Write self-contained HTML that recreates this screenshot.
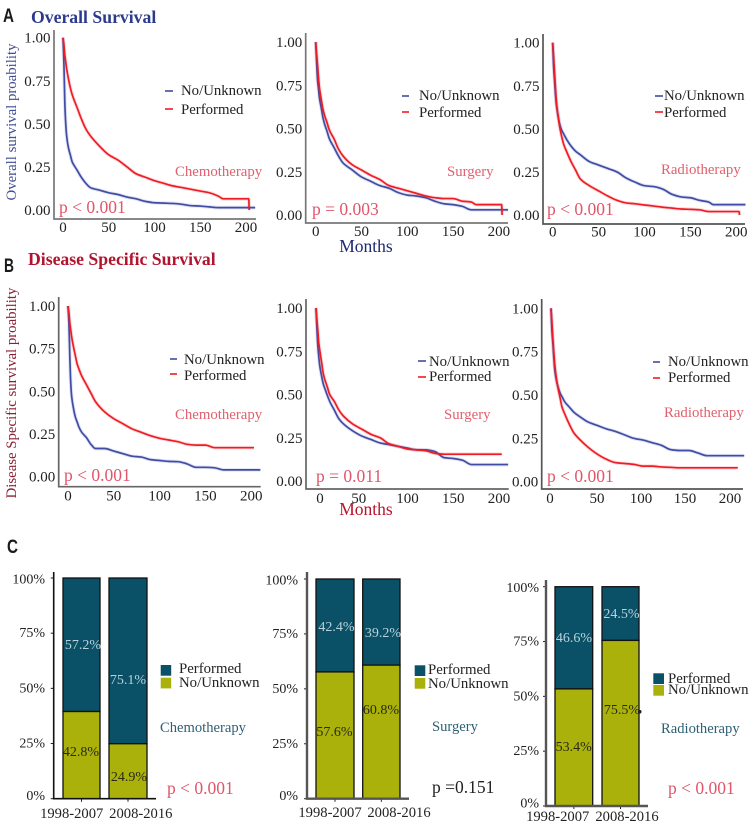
<!DOCTYPE html>
<html lang="en">
<head>
<meta charset="utf-8">
<title>Overall and Disease Specific Survival</title>
<style>
html,body{margin:0;padding:0;background:#fff;width:753px;height:826px;overflow:hidden}
svg{display:block}
text{font-family:"Liberation Serif",serif;fill:#222}
.leg{font-size:14.8px}
.tr{font-size:14.8px;fill:#e0606e}
.trc{font-size:14.6px;fill:#2e6074}
.p{font-size:17.5px;fill:#e0566a}
.letter{font-family:"Liberation Sans",sans-serif;font-weight:bold;font-size:19px;fill:#1a1a1a}
.title{font-weight:bold;font-size:17.7px}
</style>
</head>
<body>
<svg id="figure" width="753" height="826" viewBox="0 0 753 826" xmlns="http://www.w3.org/2000/svg">
<rect width="753" height="826" fill="#fff"/>
<text class="letter" x="3" y="22" textLength="11" lengthAdjust="spacingAndGlyphs">A</text>
<text class="title" x="31" y="23" style="fill:#2c3a8c">Overall Survival</text>
<text class="letter" x="4" y="272" textLength="10" lengthAdjust="spacingAndGlyphs">B</text>
<text class="title" x="28" y="265" style="fill:#b0142e">Disease Specific Survival</text>
<text class="letter" x="7" y="553" textLength="11" lengthAdjust="spacingAndGlyphs">C</text>
<text transform="translate(16,122) rotate(-90)" text-anchor="middle" style="font-size:14.8px;fill:#3f4d92">Overall survival proability</text>
<text transform="translate(16,393) rotate(-90)" text-anchor="middle" style="font-size:14.8px;fill:#8a1f33">Disease Specific survival proability</text>
<text x="366" y="252" text-anchor="middle" style="font-size:17.5px;fill:#1e2a6e">Months</text>
<text x="366" y="515" text-anchor="middle" style="font-size:17.5px;fill:#b8142e">Months</text>

<g>
<line x1="165" x2="173" y1="91" y2="91" stroke="#3f4d9e" stroke-width="1.6"/>
<text class="leg" x="181" y="95">No/Unknown</text>
<line x1="165" x2="173" y1="109" y2="109" stroke="#f01c24" stroke-width="1.6"/>
<text class="leg" x="181" y="114">Performed</text>
</g>
<g>
<line x1="402" x2="409" y1="96" y2="96" stroke="#3f4d9e" stroke-width="1.6"/>
<text class="leg" x="419" y="100">No/Unknown</text>
<line x1="402" x2="409" y1="112" y2="112" stroke="#f01c24" stroke-width="1.6"/>
<text class="leg" x="419" y="117">Performed</text>
</g>
<g>
<line x1="655" x2="663" y1="96" y2="96" stroke="#3f4d9e" stroke-width="1.6"/>
<text class="leg" x="664" y="100">No/Unknown</text>
<line x1="655" x2="663" y1="112" y2="112" stroke="#f01c24" stroke-width="1.6"/>
<text class="leg" x="664" y="117">Performed</text>
</g>
<g>
<line x1="170" x2="177" y1="359" y2="359" stroke="#3f4d9e" stroke-width="1.6"/>
<text class="leg" x="184" y="364">No/Unknown</text>
<line x1="170" x2="177" y1="374" y2="374" stroke="#f01c24" stroke-width="1.6"/>
<text class="leg" x="184" y="380">Performed</text>
</g>
<g>
<line x1="418" x2="426" y1="361" y2="361" stroke="#3f4d9e" stroke-width="1.6"/>
<text class="leg" x="429" y="366">No/Unknown</text>
<line x1="418" x2="426" y1="377" y2="377" stroke="#f01c24" stroke-width="1.6"/>
<text class="leg" x="429" y="381">Performed</text>
</g>
<g>
<line x1="653" x2="660" y1="362" y2="362" stroke="#3f4d9e" stroke-width="1.6"/>
<text class="leg" x="668" y="366">No/Unknown</text>
<line x1="653" x2="660" y1="378" y2="378" stroke="#f01c24" stroke-width="1.6"/>
<text class="leg" x="668" y="382">Performed</text>
</g>

<text class="tr" x="175" y="176">Chemotherapy</text>
<text class="tr" x="447" y="176">Surgery</text>
<text class="tr" x="661" y="174">Radiotherapy</text>
<text class="tr" x="175" y="419">Chemotherapy</text>
<text class="tr" x="444" y="419">Surgery</text>
<text class="tr" x="664" y="417">Radiotherapy</text>

<text class="p" x="59" y="213">p &lt; 0.001</text>
<text class="p" x="312" y="215">p = 0.003</text>
<text class="p" x="547" y="215">p &lt; 0.001</text>
<text class="p" x="64" y="481">p &lt; 0.001</text>
<text class="p" x="316" y="482">p = 0.011</text>
<text class="p" x="547" y="482">p &lt; 0.001</text>

<g>
<rect x="160.7" y="665" width="10.5" height="10.7" fill="#0a5168"/>
<rect x="160.7" y="677.7" width="10.5" height="10.7" fill="#aab10a"/>
<text class="leg" x="179" y="673">Performed</text>
<text class="leg" x="179" y="687">No/Unknown</text>
</g>
<g>
<rect x="414.7" y="665.3" width="10.6" height="10.7" fill="#0a5168"/>
<rect x="414.7" y="678" width="10.6" height="10.7" fill="#aab10a"/>
<text class="leg" x="428" y="674">Performed</text>
<text class="leg" x="428" y="688">No/Unknown</text>
</g>
<g>
<rect x="653.3" y="673.3" width="10.7" height="10.7" fill="#0a5168"/>
<rect x="653.3" y="685" width="10.7" height="10.7" fill="#aab10a"/>
<text class="leg" x="668" y="683">Performed</text>
<text class="leg" x="668" y="694">No/Unknown</text>
</g>

<text class="trc" x="160" y="732">Chemotherapy</text>
<text class="trc" x="432" y="731">Surgery</text>
<text class="trc" x="661" y="733">Radiotherapy</text>
<text class="p" x="167" y="794">p &lt; 0.001</text>
<text class="p" x="432" y="793" style="fill:#222">p =0.151</text>
<text class="p" x="668" y="794">p &lt; 0.001</text>
</svg>

<script>
// ---------- Survival data ----------
const months = [0,1,2,3,4, 6,8,10,12,15, 20,25,30,40,50, 60,70,80,90,100, 110,120,130,140,150, 160,170,175,180,190, 200,203,203.5,210];
const survivalTicks = [0,0.25,0.5,0.75,1];
const survivalTickLabels = ["0.00","0.25","0.50","0.75","1.00"];
const monthTicks = [0,50,100,150,200];
const monthTickLabels = ["0","50","100","150","200"];

const osChemoNo = [1,.85,.62,.5,.43, .36,.32,.28,.26,.235, .19,.155,.13,.115,.10, .09,.075,.065,.05,.042, .04,.038,.033,.025,.023, .018,.014,.014,.014,.014, .014,.014,.014,.014];
const osChemoYes = [1,.96,.9,.86,.82, .76,.71,.67,.64,.6, .53,.47,.43,.37,.32, .29,.25,.21,.19,.17, .155,.14,.13,.12,.11, .10,.08,.065,.065,.065, .065,.065,0,null];
const osSurgNo = [1,.88,.78,.73,.68, .62,.56,.52,.49,.44, .39,.34,.30,.26,.22, .195,.17,.155,.13,.115, .11,.10,.08,.065,.06, .05,.03,.03,.03,.03, .03,.03,.03,.03];
const osSurgYes = [1,.93,.87,.8,.74, .67,.61,.57,.54,.49, .44,.38,.34,.29,.26, .23,.205,.17,.155,.14, .125,.11,.10,.095,.095, .08,.075,.06,.06,.06, .06,.06,0,null];
const osRadioNo = [1,.86,.78,.7,.64, .57,.52,.49,.47,.44, .40,.37,.35,.31,.29, .27,.25,.215,.19,.17, .165,.15,.12,.105,.10, .085,.075,.06,.06,.06, .06,.06,.06,.06];
const osRadioYes = [1,.92,.83,.74,.66, .57,.5,.45,.41,.37, .31,.26,.21,.17,.14, .11,.085,.07,.065,.058, .052,.045,.04,.035,.033, .03,.02,.02,.02,.02, .02,.02,0,null];
const dssChemoNo = [1,.9,.7,.55,.47, .4,.35,.32,.29,.26, .23,.19,.165,.165,.15, .135,.12,.115,.10,.095, .09,.088,.075,.055,.055, .052,.04,.04,.04,.04, .04,.04,.04,.04];
const dssChemoYes = [1,.96,.9,.86,.82, .76,.71,.66,.63,.59, .54,.49,.44,.38,.34, .31,.28,.26,.24,.225, .215,.205,.19,.185,.185, .17,.17,.17,.17,.17, .17,.17,null,null];
const dssSurgNo = [1,.88,.78,.72,.67, .61,.56,.53,.5,.46, .41,.36,.33,.29,.26, .24,.22,.21,.2,.19, .18,.18,.17,.135,.13, .12,.095,.095,.095,.095, .095,.095,.095,.095];
const dssSurgYes = [1,.93,.87,.8,.76, .69,.62,.58,.55,.5, .46,.41,.375,.33,.3, .27,.25,.215,.2,.185, .18,.175,.16,.155,.155, .155,.155,.155,.155,.155, .155,.155,null,null];
const dssRadioNo = [1,.87,.8,.72,.65, .58,.54,.51,.49,.46, .43,.40,.38,.345,.325, .305,.29,.27,.25,.24, .225,.21,.185,.18,.18, .165,.15,.15,.15,.15, .15,.15,.15,.15];
const dssRadioYes = [1,.92,.83,.75,.68, .59,.53,.48,.43,.39, .33,.28,.25,.2,.16, .13,.11,.105,.1,.09, .09,.085,.083,.08,.08, .08,.08,.08,.08,.08, .08,.08,null,null];

// ---------- Stacked bar data ----------
const periods = ["1998-2007","2008-2016"];
const percentTicks = [0,25,50,75,100];
const percentTickLabels = ["0%","25%","50%","75%","100%"];
const chemoBarNo = [39.5,24.9];
const surgeryBarNo = [57.7,60.8];
const radioBarNo = [53.4,75.5];
const chemoPrintedNo = ["42.8%","24.9%"];
const chemoPrintedYes = ["57.2%","75.1%"];
const surgeryPrintedNo = ["57.6%","60.8%"];
const surgeryPrintedYes = ["42.4%","39.2%"];
const radioPrintedNo = ["53.4%","75.5%"];
const radioPrintedYes = ["46.6%","24.5%"];

// ---------- Layout ----------
const svg = document.getElementById('figure');
const NS = 'http://www.w3.org/2000/svg';
function make(tag, attrs, parent, txt){
  const el = document.createElementNS(NS, tag);
  for (const k in attrs) el.setAttribute(k, attrs[k]);
  if (txt !== undefined) el.textContent = txt;
  (parent || svg).appendChild(el);
  return el;
}

const survivalPanels = [
 {id:'os-chemotherapy', no:osChemoNo, yes:osChemoYes, ax:54, top:30, bottom:219, right:256, x0:63, xs:.915, y1:37.7, y0:210, axis:'#777', lb:232, dx:[0,0,0,0,0]},
 {id:'os-surgery', no:osSurgNo, yes:osSurgYes, ax:305.7, top:33, bottom:223, right:508, x0:315.7, xs:.916, y1:42, y0:215, axis:'#777', lb:236, dx:[0,0,0,0,0]},
 {id:'os-radiotherapy', no:osRadioNo, yes:osRadioYes, ax:543, top:34, bottom:224, right:745, x0:552.7, xs:.918, y1:42.7, y0:215, axis:'#555', lb:236.5, dx:[0,0,0,0,0]},
 {id:'dss-chemotherapy', no:dssChemoNo, yes:dssChemoYes, ax:58.7, top:297, bottom:486.7, right:260.7, x0:68, xs:.916, y1:306, y0:476.7, axis:'#666', lb:500.5, dx:[0,0,0,0,0]},
 {id:'dss-surgery', no:dssSurgNo, yes:dssSurgYes, ax:306, top:299, bottom:489, right:508.7, x0:316, xs:.915, y1:308, y0:481, axis:'#666', lb:503, dx:[4,-3,0,0,0]},
 {id:'dss-radiotherapy', no:dssRadioNo, yes:dssRadioYes, ax:541.7, top:299, bottom:489, right:743, x0:551, xs:.92, y1:308.3, y0:481.7, axis:'#555', lb:503, dx:[-1,0,-2,-4,-5]}
];

// Monotone cubic path through the plotted points, so flat stretches stay flat.
function monotonePath(pts){
  const n = pts.length, sec = [], tan = [];
  for (let i = 0; i < n - 1; i++) sec.push((pts[i + 1][1] - pts[i][1]) / (pts[i + 1][0] - pts[i][0]));
  tan.push(sec[0]);
  for (let i = 1; i < n - 1; i++) {
    const a = sec[i - 1], b = sec[i];
    if (a * b <= 0) { tan.push(0); continue; }
    const h0 = pts[i][0] - pts[i - 1][0], h1 = pts[i + 1][0] - pts[i][0];
    tan.push(3 * (h0 + h1) / ((2 * h1 + h0) / a + (h1 + 2 * h0) / b));
  }
  tan.push(sec[n - 2]);
  let d = 'M' + pts[0][0].toFixed(2) + ' ' + pts[0][1].toFixed(2);
  for (let i = 0; i < n - 1; i++) {
    const h = (pts[i + 1][0] - pts[i][0]) / 3;
    d += 'C' + (pts[i][0] + h).toFixed(2) + ' ' + (pts[i][1] + tan[i] * h).toFixed(2) + ' ' +
         (pts[i + 1][0] - h).toFixed(2) + ' ' + (pts[i + 1][1] - tan[i + 1] * h).toFixed(2) + ' ' +
         pts[i + 1][0].toFixed(2) + ' ' + pts[i + 1][1].toFixed(2);
  }
  return d;
}

function drawCurve(p, values, color, seriesName){
  const x = t => p.x0 + t * p.xs;
  const y = s => p.y0 - s * (p.y0 - p.y1);
  const pts = [];
  values.forEach((v, i) => {
    if (v === null) return;
    pts.push([x(months[i]), y(v)]);
  });
  const d = monotonePath(pts);
  const band = make('path', {d:d, fill:'none', stroke:color, 'stroke-width':3.6, opacity:.16});
  
  
  const line = make('path', {d:d, fill:'none', stroke:color, 'stroke-width':1.7, 'stroke-linejoin':'round'});
  
  
}

survivalPanels.forEach(p => {
  const g = make('g', {});
  
  
  const axisPath = make('path', {d:`M${p.ax} ${p.top}V${p.bottom}H${p.right}`, fill:'none', stroke:p.axis, 'stroke-width':1.7}, g);
  
  
  const x = t => p.x0 + t * p.xs;
  const y = s => p.y0 - s * (p.y0 - p.y1);
  survivalTicks.forEach((s, i) => {
    const lab = make('text', {x:p.ax - 3.5, y:y(s) + 5, 'text-anchor':'end', style:'font-size:15px'}, g, survivalTickLabels[i]);
    
    
  });
  monthTicks.forEach((t, i) => {
    const lab = make('text', {x:x(t) + p.dx[i], y:p.lb, 'text-anchor':'middle', style:'font-size:15px'}, g, monthTickLabels[i]);
    
    
  });
});
survivalPanels.forEach(p => {
  drawCurve(p, p.no, '#3f4da6', p.id + '-no-unknown');
  drawCurve(p, p.yes, '#ee1c25', p.id + '-performed');
});

const barPanels = [
 {id:'chemotherapy', no:chemoBarNo, pNo:chemoPrintedNo, pYes:chemoPrintedYes, ax:53.7, top:572, bottom:798.7, right:156, y100:578, axis:'#111', aw:1.6,
  bars:[[63,100],[109,147]], cen:[71.7,140.8], xb:818, noC:[81,129], noB:[756,781], yesC:[83,128], yesB:[649,684], tickEnd:45},
 {id:'surgery', no:surgeryBarNo, pNo:surgeryPrintedNo, pYes:surgeryPrintedYes, ax:307, top:572, bottom:798.7, right:409, y100:579, axis:'#555', aw:2.4,
  bars:[[316,354],[362.7,400]], cen:[330,399], xb:817, noC:[334.5,381], noB:[736,714], yesC:[336.5,383], yesB:[631,637], tickEnd:298},
 {id:'radiotherapy', no:radioBarNo, pNo:radioPrintedNo, pYes:radioPrintedYes, ax:546, top:580, bottom:806, right:648, y100:586.7, axis:'#555', aw:2.4,
  bars:[[555,592.7],[602,639]], cen:[557.7,627], xb:821, noC:[573.7,622], noB:[751,714], yesC:[574,621.5], yesB:[642,618], tickEnd:539}
];

barPanels.forEach(p => {
  const g = make('g', {});
  
  
  const y = v => p.bottom - v / 100 * (p.bottom - p.y100);
  periods.forEach((name, i) => {
    const [l, r] = p.bars[i];
    const top = make('rect', {x:l, y:y(100), width:r - l, height:y(p.no[i]) - y(100), fill:'#0a5168', stroke:'#111', 'stroke-width':1.3}, g);
    
    
    const bot = make('rect', {x:l, y:y(p.no[i]), width:r - l, height:y(0) - y(p.no[i]), fill:'#aab10a', stroke:'#111', 'stroke-width':1.3}, g);
    
    
    const t1 = make('text', {x:p.yesC[i], y:p.yesB[i], 'text-anchor':'middle', style:'font-size:14px;fill:#b9d2da'}, g, p.pYes[i]);
    
    
    const t2 = make('text', {x:p.noC[i], y:p.noB[i], 'text-anchor':'middle', style:'font-size:14px;fill:#2a2a14'}, g, p.pNo[i]);
    
    
    const xl = make('text', {x:p.cen[i], y:p.xb, 'text-anchor':'middle', style:'font-size:14.6px'}, g, name);
    
    
    const xt = make('line', {x1:(l + r) / 2, x2:(l + r) / 2, y1:p.bottom, y2:p.bottom + 3, stroke:'#222', 'stroke-width':1}, g);
    
    
  });
  percentTicks.forEach((v, i) => {
    const off = v === 0 ? 1.5 : v === 100 ? 5.5 : 4;
    const lab = make('text', {x:p.tickEnd, y:y(v) + off, 'text-anchor':'end', style:'font-size:14px'}, g, percentTickLabels[i]);
    
    
    const tk = make('line', {x1:p.ax - 3, x2:p.ax, y1:y(v), y2:y(v), stroke:'#222', 'stroke-width':1}, g);
    
    
  });
  const axisPath = make('path', {d:`M${p.ax} ${p.top}V${p.bottom}H${p.right}`, fill:'none', stroke:p.axis, 'stroke-width':p.aw}, g);
  
  
});

const strayDot = make('circle', {cx:639.7, cy:711.7, r:1.8, fill:'#222'});


</script>
</body>
</html>
